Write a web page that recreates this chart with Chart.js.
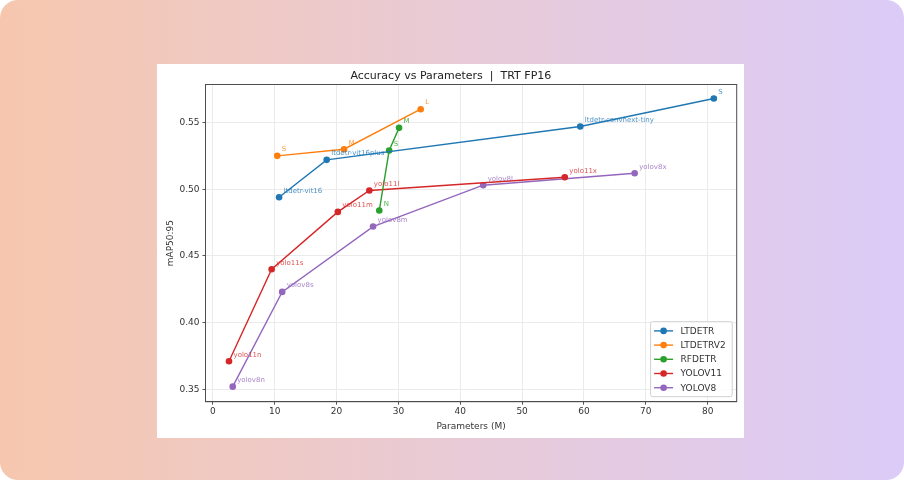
<!DOCTYPE html>
<html>
<head>
<meta charset="utf-8">
<script src="https://cdn.jsdelivr.net/npm/chart.js@4.4.1/dist/chart.umd.min.js"></script>
<style>
  html, body { margin: 0; padding: 0; background: #fff; }
  .bg {
    position: absolute; left: 0; top: 0; width: 904px; height: 480px;
    border-radius: 18px;
    background: linear-gradient(90deg, #f6c7ad 0%, #e9cbd6 50%, #dbcbf7 100%);
  }
  .card {
    position: absolute; left: 157px; top: 64px; width: 587px; height: 374px;
    background: #fff;
  }
</style>
</head>
<body>
<div class="bg"></div>
<div class="card"><canvas id="chart"></canvas></div>
<script>
// series names + colours (matplotlib tab10)
const seriesNames = ["LTDETR", "LTDETRV2", "RFDETR", "YOLOV11", "YOLOV8"];
const seriesColors = ["#1f77b4", "#ff7f0e", "#2ca02c", "#d62728", "#9467bd"];

// params (M) / mAP50:95
const ltdetrParams = [10.7, 18.4, 59.4, 81.0];
const ltdetrMap = [0.494, 0.522, 0.547, 0.568];
const ltdetrLabels = ["ltdetr-vit16", "ltdetr-vit16plus", "ltdetr-convnext-tiny", "S"];

const ltdetrv2Params = [10.4, 21.2, 33.6];
const ltdetrv2Map = [0.525, 0.530, 0.560];
const ltdetrv2Labels = ["S", "M", "L"];

const rfdetrParams = [26.9, 28.5, 30.1];
const rfdetrMap = [0.484, 0.529, 0.546];
const rfdetrLabels = ["N", "S", "M"];

const yolo11Params = [2.6, 9.5, 20.2, 25.3, 56.9];
const yolo11Map = [0.371, 0.440, 0.483, 0.499, 0.509];
const yolo11Labels = ["yolo11n", "yolo11s", "yolo11m", "yolo11l", "yolo11x"];

const yolo8Params = [3.2, 11.2, 25.9, 43.7, 68.2];
const yolo8Map = [0.352, 0.423, 0.472, 0.503, 0.512];
const yolo8Labels = ["yolov8n", "yolov8s", "yolov8m", "yolov8l", "yolov8x"];

const xTicks = [0, 10, 20, 30, 40, 50, 60, 70, 80];
const yTicks = [0.35, 0.40, 0.45, 0.50, 0.55];

const allParams = [ltdetrParams, ltdetrv2Params, rfdetrParams, yolo11Params, yolo8Params];
const allMap = [ltdetrMap, ltdetrv2Map, rfdetrMap, yolo11Map, yolo8Map];
const allLabels = [ltdetrLabels, ltdetrv2Labels, rfdetrLabels, yolo11Labels, yolo8Labels];

const FONT = "'DejaVu Sans', sans-serif";

const datasets = seriesNames.map((name, i) => ({
  label: name,
  data: allParams[i].map((x, j) => ({ x: x, y: allMap[i][j] })),
  pointLabels: allLabels[i],
  showLine: true,
  borderColor: seriesColors[i],
  backgroundColor: seriesColors[i],
  borderWidth: 1.4,
  pointRadius: 3.3,
  pointHoverRadius: 3.3,
  pointBorderWidth: 0
}));

// text next to every point
const pointLabelPlugin = {
  id: "pointLabels",
  afterDatasetsDraw(chart) {
    const ctx = chart.ctx;
    ctx.save();
    ctx.font = "7px " + FONT;
    ctx.textBaseline = "middle";
    ctx.textAlign = "left";
    chart.data.datasets.forEach((ds, i) => {
      const meta = chart.getDatasetMeta(i);
      ctx.fillStyle = ds.borderColor;
      ctx.globalAlpha = 0.8;
      meta.data.forEach((pt, j) => {
        ctx.fillText(ds.pointLabels[j], pt.x + 4.5, pt.y - 6.5);
      });
    });
    ctx.restore();
  }
};

// full box round the plot + matplotlib style legend lower right
const framePlugin = {
  id: "frame",
  afterDraw(chart) {
    const ctx = chart.ctx;
    const a = chart.chartArea;
    ctx.save();
    ctx.strokeStyle = "#4d4d4d";
    ctx.lineWidth = 1;
    ctx.strokeRect(a.left, a.top, a.right - a.left, a.bottom - a.top);

    const w = 81.6, h = 75;
    const bx = a.right - 4.5 - w;
    const by = a.bottom - 5 - h;
    ctx.fillStyle = "rgba(255,255,255,0.85)";
    ctx.strokeStyle = "#d0d0d0";
    ctx.beginPath();
    ctx.roundRect(bx, by, w, h, 2);
    ctx.fill();
    ctx.stroke();

    ctx.font = "9px " + FONT;
    ctx.textBaseline = "middle";
    ctx.textAlign = "left";
    seriesNames.forEach((name, i) => {
      const yy = by + 9.2 + i * 14.2;
      ctx.strokeStyle = seriesColors[i];
      ctx.lineWidth = 1.4;
      ctx.beginPath();
      ctx.moveTo(bx + 3.5, yy);
      ctx.lineTo(bx + 22.5, yy);
      ctx.stroke();
      ctx.fillStyle = seriesColors[i];
      ctx.beginPath();
      ctx.arc(bx + 13, yy, 3.3, 0, Math.PI * 2);
      ctx.fill();
      ctx.fillStyle = "#333";
      ctx.fillText(name, bx + 30, yy + 0.5);
    });
    ctx.restore();
  }
};

new Chart(document.getElementById("chart"), {
  type: "scatter",
  data: { datasets: datasets },
  plugins: [pointLabelPlugin, framePlugin],
  options: {
    responsive: true,
    maintainAspectRatio: false,
    animation: false,
    devicePixelRatio: 1,
    layout: { padding: { left: 8, right: 7.3, top: 0, bottom: 6 } },
    plugins: {
      legend: { display: false },
      tooltip: { enabled: false },
      title: {
        display: true,
        text: "Accuracy vs Parameters  |  TRT FP16",
        color: "#222",
        font: { family: FONT, size: 11, weight: "normal" },
        padding: { top: 6, bottom: 1.3 }
      }
    },
    scales: {
      x: {
        type: "linear",
        min: -1.2,
        max: 84.7,
        afterBuildTicks: (scale) => { scale.ticks = xTicks.map(v => ({ value: v })); },
        afterFit: (scale) => { scale.height = 30.3; },
        ticks: {
          color: "#333",
          font: { family: FONT, size: 9 },
          padding: 2,
          maxRotation: 0,
          callback: (v) => String(v)
        },
        grid: { color: "#ebebeb", tickColor: "#555", tickLength: 3, lineWidth: 1 },
        border: { color: "#4d4d4d" },
        title: {
          display: true,
          text: "Parameters (M)",
          color: "#333",
          font: { family: FONT, size: 9 },
          padding: { top: 1, bottom: 0 }
        }
      },
      y: {
        type: "linear",
        min: 0.3407,
        max: 0.5785,
        afterBuildTicks: (scale) => { scale.ticks = yTicks.map(v => ({ value: v })); },
        afterFit: (scale) => { scale.width = 40.5; },
        ticks: {
          color: "#333",
          font: { family: FONT, size: 9 },
          padding: 3,
          callback: (v) => v.toFixed(2)
        },
        grid: { color: "#ebebeb", tickColor: "#555", tickLength: 3, lineWidth: 1 },
        border: { color: "#4d4d4d" },
        title: {
          display: true,
          text: "mAP50:95",
          color: "#333",
          font: { family: FONT, size: 9 },
          padding: { top: 0, bottom: 2 }
        }
      }
    }
  }
});
</script>
</body>
</html>
